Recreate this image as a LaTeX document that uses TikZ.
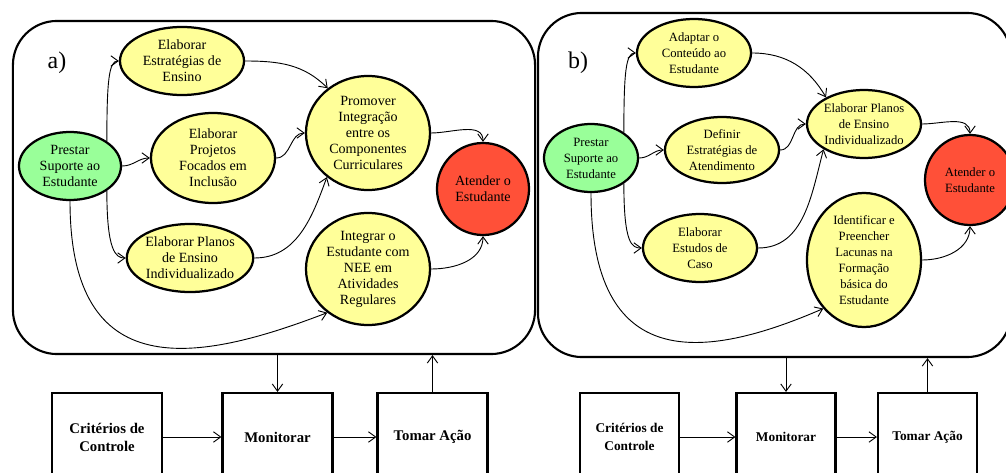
\documentclass[tikz,border=0pt]{standalone}
\usepackage{fontspec}
\setmainfont{Liberation Serif}
\usepackage{xcolor}
\usetikzlibrary{shapes.geometric, arrows.meta}
\definecolor{startgreen}{RGB}{153,255,153}
\definecolor{taskyellow}{RGB}{255,255,153}
\definecolor{endred}{RGB}{255,80,56}
\tikzset{
  panel/.style={rectangle, draw, line width=1.5pt, rounded corners=1.1cm},
  paneltag/.style={font=\fontsize{17}{20}\selectfont},
  startnode/.style={ellipse, draw, line width=1.6pt, fill=startgreen,
                    align=center, inner sep=0pt},
  tasknode/.style={ellipse, draw, line width=1.6pt, fill=taskyellow,
                   align=center, inner sep=0pt},
  endnode/.style={circle, draw, line width=1.6pt, fill=endred,
                  align=center, inner sep=0pt},
  fonta/.style={font=\fontsize{10}{11.4}\selectfont},
  fontb/.style={font=\fontsize{9}{11.4}\selectfont},
  ctrlbox/.style={rectangle, draw, line width=1.5pt, minimum height=2.2cm,
                  align=center},
  ctrla/.style={ctrlbox, minimum width=2.75cm,
                font=\fontsize{10.5}{12.8}\selectfont\bfseries},
  ctrlb/.style={ctrlbox, minimum width=2.475cm,
                font=\fontsize{9.5}{12.8}\selectfont\bfseries},
  arrow/.style={-{Straight Barb[length=1.8mm, width=2.6mm]}, line width=0.65pt},
}

\begin{document}
\begin{tikzpicture}[x=0.025cm, y=0.025cm]
  \useasboundingbox (0,0) rectangle (1006,-473);

  % Panel boundaries
  \node[panel, minimum width=13.05cm, minimum height=8.325cm] (pana) at (274,-187.5) {};
  \node[panel, minimum width=11.825cm, minimum height=8.6cm] (panb) at (774.5,-185) {};
  \node[paneltag] (taga) at (57,-63) {a)};
  \node[paneltag] (tagb) at (578,-63) {b)};

  % Panel a)
  \node[startnode, fonta, minimum width=2.55cm, minimum height=1.7cm] (pa) at (70,-166) {Prestar\\Suporte ao\\Estudante};
  \node[tasknode, fonta, minimum width=3.1cm, minimum height=1.7cm] (ea) at (182,-61) {Elaborar\\Estratégias de\\Ensino};
  \node[tasknode, fonta, minimum width=3.1cm, minimum height=2.25cm] (pp) at (213,-158) {Elaborar\\Projetos\\Focados em\\Inclusão};
  \node[tasknode, fonta, minimum width=3.1cm, minimum height=1.7cm] (pl) at (190,-258) {Elaborar Planos\\de Ensino\\Individualizado};
  \node[tasknode, fonta, minimum width=3.1cm, minimum height=2.85cm] (pr) at (368,-133) {Promover\\Integração\\entre os\\Componentes\\Curriculares};
  \node[tasknode, fonta, minimum width=3.1cm, minimum height=2.8cm] (ig) at (368,-269) {Integrar o\\Estudante com\\NEE em\\Atividades\\Regulares};
  \node[endnode, fonta, minimum size=2.3cm] (at) at (483,-189) {Atender o\\Estudante};

  \draw[arrow] (pa.34) .. controls +(0,60) and +(-10,0) .. (ea.west);
  \draw[arrow] (pa.east) to[out=0,in=180] (pp.west);
  \draw[arrow] (pa.-34) .. controls +(0,-60) and +(-10,0) .. (pl.west);
  \draw[arrow] (pa.south) .. controls +(0,-185) and +(-130,-50) .. (ig.227);
  \draw[arrow] (ea.east) to[out=0,in=135] (pr.132);
  \draw[arrow] (pp.east) to[out=0,in=180] (pr.west);
  \draw[arrow] (pl.east) to[out=0,in=-110] (pr.227);
  \draw[arrow] (pr.east) to[out=0,in=90] (at.north);
  \draw[arrow] (ig.east) to[out=0,in=-90] (at.south);

  % Panel b)
  \node[startnode, fontb, minimum width=2.35cm, minimum height=1.7cm] (pb) at (591,-158) {Prestar\\Suporte ao\\Estudante};
  \node[tasknode, fontb, minimum width=2.85cm, minimum height=1.7cm] (ad) at (694,-53) {Adaptar o\\Conteúdo ao\\Estudante};
  \node[tasknode, fontb, minimum width=2.85cm, minimum height=1.65cm] (df) at (722,-150) {Definir\\Estratégias de\\Atendimento};
  \node[tasknode, fontb, minimum width=2.85cm, minimum height=1.7cm] (es) at (700,-248) {Elaborar\\Estudos de\\Caso};
  \node[tasknode, fontb, minimum width=2.85cm, minimum height=1.7cm] (pn) at (864,-124) {Elaborar Planos\\de Ensino\\Individualizado};
  \node[tasknode, fontb, minimum width=2.85cm, minimum height=3.35cm] (id) at (864,-260) {Identificar e\\Preencher\\Lacunas na\\Formação\\básica do\\Estudante};
  \node[endnode, fontb, minimum size=2.25cm] (atb) at (970,-180) {Atender o\\Estudante};

  \draw[arrow] (pb.38) .. controls +(0,60) and +(-10,0) .. (ad.west);
  \draw[arrow] (pb.east) to[out=0,in=180] (df.west);
  \draw[arrow] (pb.-38) .. controls +(0,-60) and +(-10,0) .. (es.west);
  \draw[arrow] (pb.south) .. controls +(0,-180) and +(-120,-52) .. (id.230);
  \draw[arrow] (ad.east) to[out=0,in=120] (pn.145);
  \draw[arrow] (df.east) to[out=0,in=180] (pn.west);
  \draw[arrow] (es.east) to[out=0,in=-105] (pn.212);
  \draw[arrow] (pn.east) to[out=0,in=90] (atb.north);
  \draw[arrow] (id.east) to[out=0,in=-90] (atb.south);

  % Control loop a)
  \node[ctrla] (cra) at (107,-437) {Critérios de\\Controle};
  \node[ctrla] (mona) at (277.5,-437) {Monitorar};
  \node[ctrla] (toma) at (432.5,-437) {Tomar Ação};
  \draw[arrow] (cra.east) -- (mona.west);
  \draw[arrow] (mona.east) -- (toma.west);
  \draw[arrow] (mona.north |- pana.south) -- (mona.north);
  \draw[arrow] (toma.north) -- (toma.north |- pana.south);

  % Control loop b)
  \node[ctrlb] (crb) at (629.5,-437) {Critérios de\\Controle};
  \node[ctrlb] (monb) at (786,-437) {Monitorar};
  \node[ctrlb] (tomb) at (927.5,-437) {Tomar Ação};
  \draw[arrow] (crb.east) -- (monb.west);
  \draw[arrow] (monb.east) -- (tomb.west);
  \draw[arrow] (monb.north |- panb.south) -- (monb.north);
  \draw[arrow] (tomb.north) -- (tomb.north |- panb.south);
\end{tikzpicture}
\end{document}
